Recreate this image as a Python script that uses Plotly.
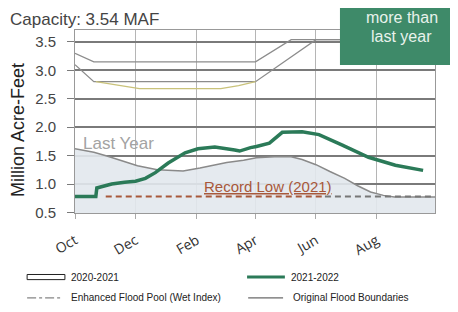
import plotly.graph_objects as go

# ---- data ----
last_year_dates = ["2021-10-01", "2021-10-20", "2021-11-03", "2021-11-18", "2021-12-03", "2021-12-23",
                   "2022-01-18", "2022-02-04", "2022-03-03", "2022-03-20", "2022-04-02", "2022-04-20",
                   "2022-05-07", "2022-05-18", "2022-06-01", "2022-06-15", "2022-06-30", "2022-07-13",
                   "2022-07-26", "2022-08-08", "2022-08-19", "2022-09-29"]
last_year_vals = [1.62, 1.56, 1.49, 1.41, 1.32, 1.25,
                  1.23, 1.28, 1.38, 1.42, 1.46, 1.48,
                  1.48, 1.43, 1.34, 1.22, 1.10, 0.97,
                  0.86, 0.80, 0.77, 0.77]

cur_dates = ["2021-10-01", "2021-10-22", "2021-10-23", "2021-11-07", "2021-11-20", "2021-12-01",
             "2021-12-11", "2021-12-21", "2022-01-03", "2022-01-20", "2022-02-02", "2022-02-19",
             "2022-03-11", "2022-03-16", "2022-03-27", "2022-04-02", "2022-04-15", "2022-04-22",
             "2022-04-28", "2022-05-18", "2022-06-04", "2022-06-27", "2022-07-24", "2022-08-20",
             "2022-09-17"]
cur_vals = [0.78, 0.78, 0.93, 1.00, 1.03, 1.05,
            1.10, 1.20, 1.37, 1.55, 1.62, 1.65,
            1.60, 1.58, 1.64, 1.66, 1.72, 1.83,
            1.91, 1.92, 1.87, 1.69, 1.47, 1.33,
            1.24]

flood_upper_dates = ["2021-10-01", "2021-10-20", "2022-04-01", "2022-05-07", "2022-09-29"]
flood_upper_vals = [3.30, 3.15, 3.15, 3.54, 3.54]
flood_lower_dates = ["2021-10-01", "2021-10-20", "2022-04-01", "2022-06-01", "2022-09-29"]
flood_lower_vals = [3.10, 2.80, 2.80, 3.54, 3.54]
enhanced_dates = ["2021-10-22", "2021-11-20", "2021-12-05", "2022-02-25", "2022-03-15", "2022-04-01"]
enhanced_vals = [2.80, 2.72, 2.68, 2.68, 2.73, 2.80]

record_low_dates = ["2021-11-01", "2022-06-10"]
record_low_vals = [0.78, 0.78]
record_low_tail_dates = ["2022-06-10", "2022-09-29"]
record_low_tail_vals = [0.78, 0.78]

tick_vals = ["2021-10-01", "2021-12-01", "2022-02-01", "2022-04-01", "2022-06-01", "2022-08-01"]
tick_text = ["Oct", "Dec", "Feb", "Apr", "Jun", "Aug"]
y_ticks = [0.5, 1.0, 1.5, 2.0, 2.5, 3.0, 3.5]

GREEN = "#2b7a58"
BROWN = "#a8583a"

fig = go.Figure()

fig.add_trace(go.Scatter(x=last_year_dates, y=last_year_vals, mode="lines",
                         line=dict(color="#8a8a8a", width=1.5), fill="tozeroy",
                         fillcolor="rgba(226,232,237,0.9)", hoverinfo="skip"))
fig.add_trace(go.Scatter(x=flood_upper_dates, y=flood_upper_vals, mode="lines",
                         line=dict(color="#8c8c8c", width=1.3)))
fig.add_trace(go.Scatter(x=flood_lower_dates, y=flood_lower_vals, mode="lines",
                         line=dict(color="#8c8c8c", width=1.3)))
fig.add_trace(go.Scatter(x=enhanced_dates, y=enhanced_vals, mode="lines",
                         line=dict(color="#c9c27a", width=1.3)))
fig.add_trace(go.Scatter(x=record_low_dates, y=record_low_vals, mode="lines",
                         line=dict(color=BROWN, width=2, dash="6px,4px")))
fig.add_trace(go.Scatter(x=record_low_tail_dates, y=record_low_tail_vals, mode="lines",
                         line=dict(color="#777777", width=2, dash="6px,4px")))
fig.add_trace(go.Scatter(x=cur_dates, y=cur_vals, mode="lines",
                         line=dict(color=GREEN, width=3.5)))

# the page body keeps an 8px default margin; sized so the page is exactly 458x312
fig.update_layout(
    width=442, height=296,
    margin=dict(l=67, r=15, t=22, b=91),
    paper_bgcolor="white", plot_bgcolor="white",
    showlegend=False,
    font=dict(family="Liberation Sans, Arial, sans-serif", color="#333"),
)

fig.update_xaxes(
    type="date", range=["2021-10-01", "2022-09-29"],
    tickvals=tick_vals, ticktext=tick_text, tickangle=-30,
    tickfont=dict(size=14, color="#333", family="Open Sans, sans-serif"),
    showgrid=True, gridcolor="#b5b5b5", gridwidth=1,
    ticks="outside", ticklen=5, tickcolor="#aaa",
    showline=True, linecolor="#999", mirror=True, zeroline=False,
    ticklabelstandoff=8,
)
fig.update_yaxes(
    range=[0.49, 3.71], tickvals=y_ticks, ticktext=[f"{v:.1f}" for v in y_ticks],
    tickfont=dict(size=15, color="#444"),
    showgrid=True, gridcolor="#7a7a7a", gridwidth=1.5,
    ticks="outside", ticklen=7, tickcolor="#7a7a7a",
    showline=True, linecolor="#999", mirror=True, zeroline=False,
    ticklabelstandoff=8,
)

# y-axis title
fig.add_annotation(xref="paper", yref="paper", x=-0.158, y=0.454, textangle=-90,
                   xanchor="center", yanchor="middle", text="Million Acre-Feet", showarrow=False,
                   font=dict(size=18, color="#222"))

# in-plot labels
fig.add_annotation(x="2021-11-14", y=1.72, text="Last Year", showarrow=False,
                   font=dict(size=17, color="#a3a3a3"))
fig.add_annotation(x="2022-04-14", y=0.96, text="<u>Record Low (2021)</u>", showarrow=False,
                   font=dict(size=15, color=BROWN))

# title
fig.add_annotation(xref="paper", yref="paper", x=-0.186, y=1.12, xanchor="left", yanchor="top",
                   text="Capacity: 3.54 MAF", showarrow=False, font=dict(size=17, color="#444"))

# green callout box
fig.add_shape(type="rect", xref="paper", yref="paper", x0=0.736, x1=1.08, y0=0.809, y1=1.2,
              fillcolor="#3e8a69", line=dict(width=0), layer="above")
fig.add_annotation(xref="paper", yref="paper", x=0.908, y=1.071, xanchor="center", yanchor="middle",
                   text="more than", showarrow=False, font=dict(size=16, color="#e8f2ec"))
fig.add_annotation(xref="paper", yref="paper", x=0.908, y=0.962, xanchor="center", yanchor="middle",
                   text="last year", showarrow=False, font=dict(size=16, color="#e8f2ec"))

# legend (manual)
r1 = -0.35
r2 = -0.464
fig.add_shape(type="rect", xref="paper", yref="paper", x0=-0.133, x1=-0.028, y0=r1 - 0.014, y1=r1 + 0.014,
              fillcolor="white", line=dict(color="#222", width=1))
fig.add_shape(type="line", xref="paper", yref="paper", x0=0.478, x1=0.583, y0=r1, y1=r1,
              line=dict(color=GREEN, width=3))
fig.add_shape(type="line", xref="paper", yref="paper", x0=-0.133, x1=-0.033, y0=r2, y1=r2,
              line=dict(color="#666", width=1, dash="dashdot"))
fig.add_shape(type="line", xref="paper", yref="paper", x0=0.481, x1=0.578, y0=r2, y1=r2,
              line=dict(color="#444", width=1))
leg_font = dict(size=10, color="#222")
fig.add_annotation(xref="paper", yref="paper", x=-0.017, y=r1, xanchor="left", yanchor="middle",
                   text="2020-2021", showarrow=False, font=leg_font)
fig.add_annotation(xref="paper", yref="paper", x=0.594, y=r1, xanchor="left", yanchor="middle",
                   text="2021-2022", showarrow=False, font=leg_font)
fig.add_annotation(xref="paper", yref="paper", x=-0.017, y=r2, xanchor="left", yanchor="middle",
                   text="Enhanced Flood Pool (Wet Index)", showarrow=False, font=leg_font)
fig.add_annotation(xref="paper", yref="paper", x=0.6, y=r2, xanchor="left", yanchor="middle",
                   text="Original Flood Boundaries", showarrow=False, font=leg_font)

fig.write_html("out.html")
